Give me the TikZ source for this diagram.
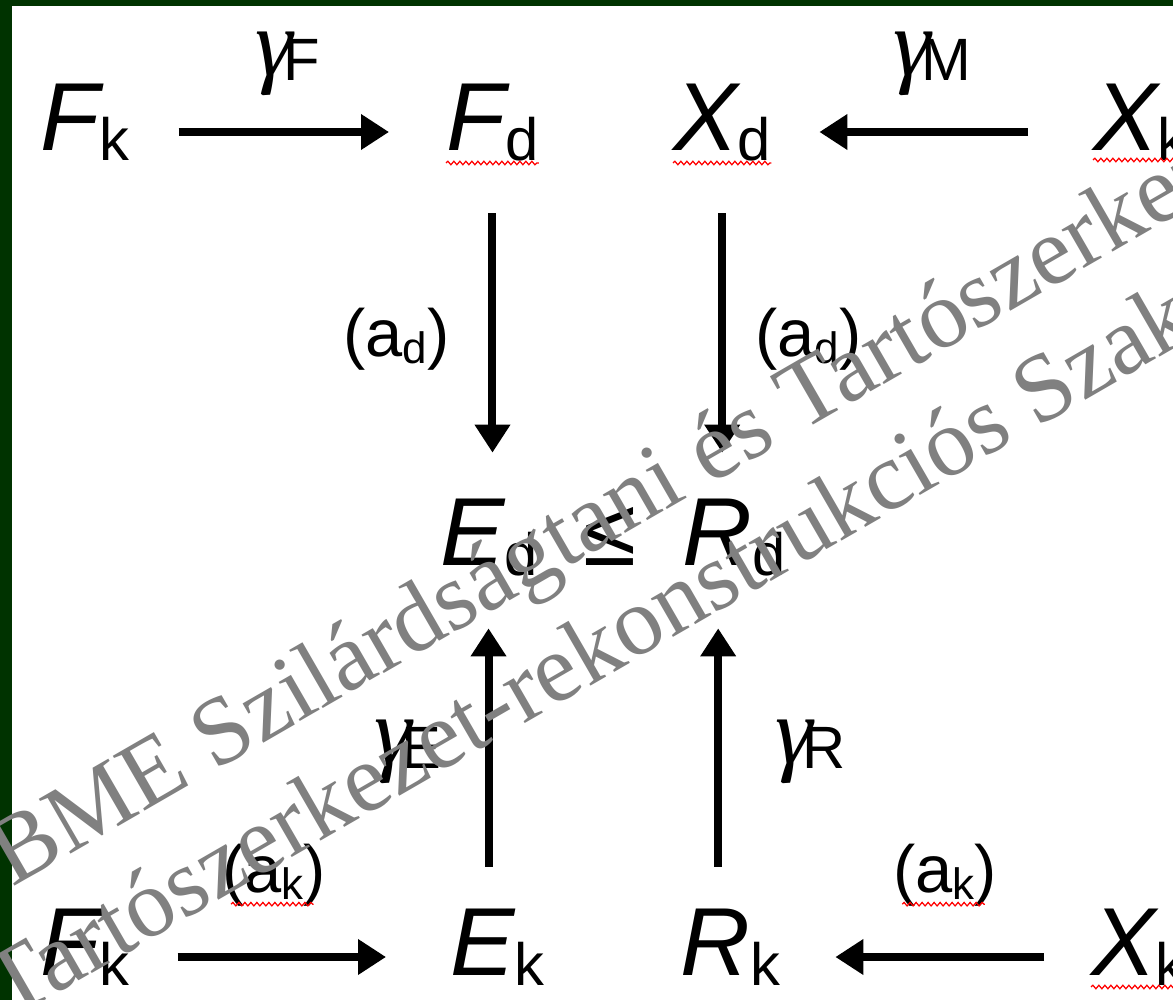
\documentclass[tikz,border=0pt]{standalone}
\usepackage{fontspec}
\setmainfont{Liberation Sans}
\newfontfamily\wmfont{Liberation Serif}
\usetikzlibrary{arrows.meta, decorations.pathmorphing, calc}
\definecolor{framegreen}{HTML}{003300}
\definecolor{wmgray}{HTML}{808080}
\newcommand{\mainsize}{\fontsize{55pt}{60pt}\selectfont}
\newcommand{\subsize}{\fontsize{34pt}{38pt}\selectfont}
\newcommand{\quant}[2]{{\itshape #1}\raisebox{-2mm}{\subsize #2}}
\newcommand{\gfac}[1]{{\wmfont\itshape\fontsize{54pt}{60pt}\selectfont γ}\kern-2mm\raisebox{-1mm}{\subsize #1}}
\newcommand{\afac}[1]{{\fontsize{38pt}{42pt}\selectfont (a\raisebox{-1.4mm}{\fontsize{25pt}{29pt}\selectfont #1})}}

\begin{document}
\begin{tikzpicture}[x=0.2mm, y=-0.2mm, >={Triangle[length=5.6mm, width=6.8mm]},
    quant/.style={font=\mainsize, inner sep=0pt, text height=13.6mm, text depth=6.4mm, anchor=base west},
    arr/.style={->, line width=1.6mm},
    lbl/.style={inner sep=0pt},
    squiggle/.style={draw=red, line width=0.25mm, decorate, decoration={snake, amplitude=0.35mm, segment length=1.2mm}},
    wmark/.style={font=\wmfont\fontsize{55pt}{60pt}\selectfont, text=wmgray, inner sep=0pt, anchor=base west, rotate=30}]
  \fill[framegreen] (0,0) rectangle (1173,1000);
  \fill[white] (12,6) rectangle (1173,1000);
  \useasboundingbox (0,0) rectangle (1173,1000);

  % design values (top row)
  \node[quant] (Fk1) at (40,150) {\quant{F}{k}};
  \node[quant] (Fd) at (446,150) {\quant{F}{d}};
  \node[quant] (Xd) at (673,150) {\quant{X}{d}};
  \node[quant] (Xk1) at (1093,150) {\quant{X}{k}};
  % check
  \node[quant] (Ed) at (440,565) {\quant{E}{d}};
  \node[quant] (le) at (583,565) {≤};
  \node[quant] (Rd) at (682,565) {\quant{R}{d}};
  % characteristic values (bottom row)
  \node[quant] (Fk2) at (40,975) {\quant{F}{k}};
  \node[quant] (Ek) at (450,975) {\quant{E}{k}};
  \node[quant] (Rk) at (680,975) {\quant{R}{k}};
  \node[quant] (Xk2) at (1091,975) {\quant{X}{k}};

  \path (Fk1) edge[arr, shorten <=9.8mm, shorten >=11.4mm] node[lbl, above=6.4mm] {\gfac{F}} (Fd)
    (Xk1) edge[arr, shorten <=13mm, shorten >=9.6mm] node[lbl, above=6.4mm] {\gfac{M}} (Xd)
    (Fd.south) edge[arr, shorten <=6.2mm, shorten >=8.8mm] node[lbl, left=7.8mm] {\afac{d}} (Fd.south |- Ed.north)
    (Xd.south) edge[arr, shorten <=6.2mm, shorten >=8.8mm] node[lbl, right=5.8mm] {\afac{d}} (Xd.south |- Rd.north)
    ([xshift=-1.8mm]Ek.north) edge[arr, shorten <=8mm, shorten >=6.2mm] node[lbl, left=8.6mm] {\gfac{E}} ([xshift=-1.8mm]Ek.north |- Ed.south)
    ([xshift=-2.4mm]Rk.north) edge[arr, shorten <=8mm, shorten >=6.2mm] node[lbl, right=10.6mm] {\gfac{R}} ([xshift=-2.4mm]Rk.north |- Rd.south)
    (Fk2) edge[arr, shorten <=9.6mm, shorten >=12.8mm] node[lbl, above=9.4mm, pos=0.45] (ak1) {\afac{k}} (Ek)
    (Xk2) edge[arr, shorten <=9.4mm, shorten >=11mm] node[lbl, above=9.4mm, pos=0.47] (ak2) {\afac{k}} (Rk);

  % spell-check underlines
  \foreach \n/\dy in {Fd/2.6, Xd/2.6, Xk1/2.0, Xk2/2.4}
    \draw[squiggle] ([yshift=-\dy mm]\n.base west) -- ([yshift=-\dy mm]\n.base east);
  \foreach \n in {ak1, ak2}
    \draw[squiggle] ([xshift=2.6mm, yshift=-2.4mm]\n.base west) -- ([xshift=-3.2mm, yshift=-2.4mm]\n.base east);

  % watermark
  \begin{scope}
    \clip (0,0) rectangle (1173,1000);
    \node[wmark] at (12,888) {BME Szilárdságtani és Tartószerkezeti Tanszék};
    \node[wmark] at (8,1022) {Tartószerkezet-rekonstrukciós Szakmérnöki Képzés};
  \end{scope}
\end{tikzpicture}
\end{document}
